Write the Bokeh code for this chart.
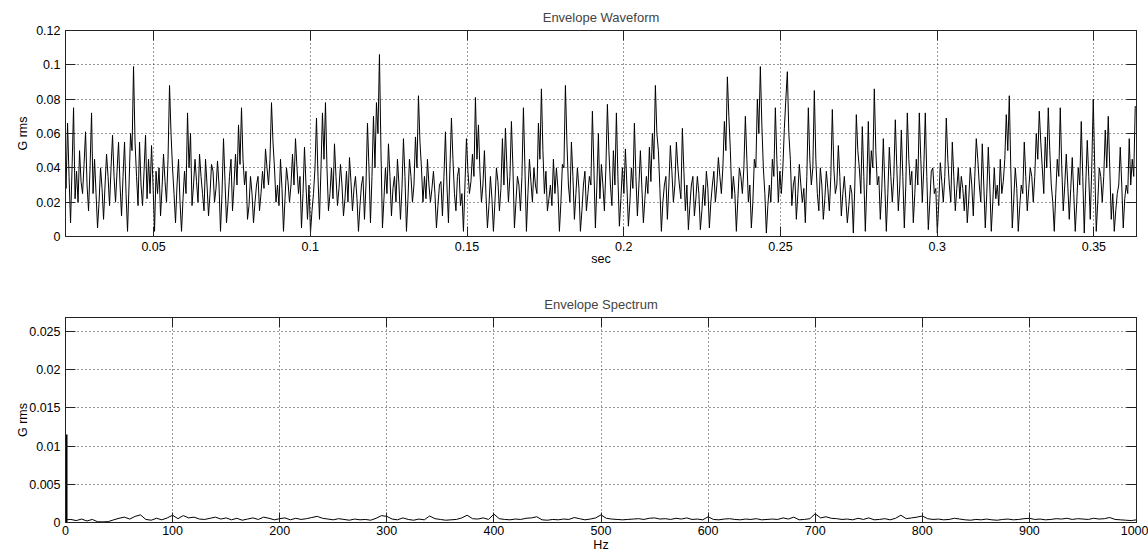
import numpy as np
from bokeh.plotting import figure
from bokeh.models import Range1d, LinearAxis, FixedTicker, CustomJSTickFormatter
from bokeh.layouts import column
from bokeh.embed import file_html
from bokeh.resources import INLINE

# ---------------- data ----------------
# Envelope waveform, evenly sampled between start and end time (values in milli-G rms)
WAVE_T_START = 0.0216
WAVE_T_END = 0.3632
WAVE_MG = [
    # 0.022 - 0.079 s
    55, 28, 66, 35, 8, 40, 75, 22, 38, 20, 50, 32, 25, 42, 61, 30, 15, 40, 72, 25,
    45, 25, 5, 20, 40, 28, 10, 30, 48, 35, 18, 40, 59, 35, 20, 38, 55, 30, 12, 35,
    55, 25, 3, 30, 60, 50, 99, 55, 35, 18, 55, 30, 18, 38, 59, 22, 45, 25, 53, 30,
    3, 38, 25, 40, 12, 28, 48, 32, 20, 45, 88, 60, 40, 25, 8, 30, 45, 20, 3, 22,
    38, 25, 72, 40, 60, 18, 30, 45, 32, 20, 48, 35, 25, 15, 45, 30, 12, 25, 42, 38,
    20, 28, 44, 30, 3, 25, 57, 32, 8, 20, 35, 45, 15, 30, 48, 30, 65, 42, 75, 45,
    # 0.079 - 0.136 s
    30, 38, 10, 18, 35, 25, 8, 20, 30, 35, 15, 25, 38, 28, 51, 40, 30, 45, 78, 55,
    40, 20, 30, 18, 45, 28, 3, 22, 40, 32, 20, 30, 48, 30, 57, 40, 25, 35, 5, 25,
    52, 30, 10, 30, 2, 15, 25, 40, 69, 35, 10, 40, 72, 45, 78, 40, 15, 25, 40, 22,
    54, 35, 18, 28, 42, 30, 12, 22, 38, 20, 46, 32, 15, 28, 35, 22, 3, 18, 30, 35,
    10, 30, 66, 40, 8, 35, 70, 40, 78, 60, 106, 50, 5, 22, 40, 25, 54, 35, 12, 28,
    35, 20, 45, 30, 10, 28, 57, 35, 3, 22, 45, 35, 20, 30, 58, 40, 82, 55, 40, 20,
    # 0.136 - 0.194 s
    35, 22, 45, 30, 20, 28, 38, 25, 5, 18, 30, 32, 12, 35, 61, 30, 8, 40, 69, 45,
    25, 15, 35, 40, 18, 25, 3, 30, 57, 38, 25, 32, 48, 35, 81, 45, 65, 38, 20, 30,
    50, 25, 5, 18, 35, 22, 3, 20, 40, 32, 15, 28, 57, 30, 63, 40, 20, 35, 67, 40,
    5, 20, 35, 30, 15, 35, 75, 40, 3, 25, 45, 32, 20, 40, 30, 25, 66, 45, 86, 50,
    25, 38, 15, 22, 30, 18, 45, 25, 40, 28, 3, 20, 42, 40, 88, 55, 30, 20, 55, 35,
    10, 25, 40, 28, 3, 15, 30, 38, 15, 25, 35, 30, 73, 40, 5, 30, 60, 22, 42, 30,
    # 0.194 - 0.251 s
    15, 40, 77, 50, 30, 18, 50, 30, 72, 35, 6, 22, 40, 25, 51, 30, 6, 20, 40, 28,
    66, 35, 12, 30, 50, 28, 8, 22, 35, 25, 52, 32, 60, 45, 88, 60, 50, 28, 3, 20,
    30, 35, 10, 30, 53, 38, 20, 30, 55, 40, 30, 22, 63, 38, 15, 30, 4, 18, 30, 35,
    12, 22, 35, 25, 4, 15, 30, 18, 38, 28, 5, 20, 30, 38, 20, 30, 46, 35, 25, 40,
    67, 50, 93, 70, 50, 22, 35, 25, 3, 22, 40, 35, 25, 40, 70, 45, 20, 30, 5, 20,
    45, 40, 80, 60, 99, 65, 40, 25, 2, 18, 30, 20, 45, 35, 75, 45, 20, 38, 25, 40,
    # 0.251 - 0.308 s
    63, 80, 96, 60, 45, 18, 30, 35, 10, 25, 42, 30, 20, 28, 8, 35, 75, 45, 30, 40,
    85, 45, 25, 15, 40, 30, 10, 22, 38, 28, 15, 35, 74, 40, 25, 30, 53, 35, 12, 25,
    35, 22, 8, 18, 30, 25, 2, 30, 71, 50, 40, 25, 64, 35, 3, 30, 67, 30, 50, 40,
    86, 50, 30, 35, 10, 28, 57, 30, 3, 25, 52, 35, 20, 35, 68, 40, 15, 30, 62, 35,
    5, 30, 72, 45, 30, 38, 8, 25, 45, 30, 72, 45, 20, 40, 72, 35, 4, 20, 38, 40,
    25, 28, 2, 20, 43, 32, 20, 35, 69, 45, 30, 20, 55, 35, 15, 28, 40, 22, 35, 28,
    # 0.308 - 0.363 s
    15, 30, 8, 22, 40, 30, 12, 35, 57, 45, 30, 20, 54, 30, 5, 25, 52, 30, 3, 20,
    40, 22, 30, 18, 45, 25, 32, 45, 71, 50, 82, 40, 5, 22, 40, 28, 3, 18, 30, 25,
    55, 35, 15, 28, 40, 35, 20, 35, 60, 45, 73, 55, 40, 25, 58, 40, 75, 50, 30, 20,
    3, 25, 45, 35, 75, 40, 15, 30, 48, 30, 10, 28, 46, 25, 3, 20, 40, 30, 67, 35,
    2, 30, 56, 35, 10, 40, 80, 40, 3, 20, 40, 35, 20, 35, 62, 40, 70, 40, 10, 25,
    3, 15, 25, 30, 52, 30, 5, 22, 30, 25, 57, 30, 45, 35, 76,
]

# Envelope spectrum: DC component and 5 Hz bins from 0 to 1000 Hz (values in 1e-5 G rms)
SPEC_DC_E5 = 1150
SPEC_F_STEP = 5
SPEC_E5 = [
    35, 40, 25, 45, 20, 40, 10, 8, 12, 35,
    55, 70, 45, 80, 100, 40, 30, 55, 35, 60,
    95, 50, 90, 60, 70, 45, 40, 55, 70, 45,
    60, 35, 55, 30, 45, 60, 40, 70, 55, 35,
    50, 60, 35, 55, 40, 50, 65, 80, 55, 45,
    35, 50, 40, 30, 45, 35, 40, 30, 55, 90,
    80, 45, 35, 60, 40, 30, 45, 35, 85, 50,
    40, 30, 35, 40, 60, 95, 50, 45, 60, 40,
    110, 50, 40, 35, 45, 40, 55, 60, 75, 35,
    30, 40, 35, 45, 40, 65, 50, 35, 45, 60,
    100, 55, 45, 40, 35, 40, 45, 50, 40, 55,
    60, 45, 50, 40, 55, 45, 60, 40, 45, 35,
    75, 40, 35, 45, 50, 40, 35, 45, 40, 50,
    35, 40, 45, 40, 60, 45, 70, 35, 40, 50,
    115, 60, 75, 55, 50, 40, 45, 35, 55, 40,
    60, 35, 40, 50, 35, 55, 95, 50, 60, 70,
    85, 50, 40, 45, 35, 40, 55, 45, 35, 30,
    40, 35, 45, 35, 30, 40, 45, 35, 40, 50,
    55, 40, 45, 35, 40, 50, 45, 55, 40, 50,
    45, 40, 55, 45, 50, 65, 40, 35, 30, 25,
    35,
]

WAVE_X_TICKS = [0.05, 0.1, 0.15, 0.2, 0.25, 0.3, 0.35]
WAVE_X_LABELS = ["0.05", "0.1", "0.15", "0.2", "0.25", "0.3", "0.35"]
WAVE_Y_TICKS = [0, 0.02, 0.04, 0.06, 0.08, 0.1, 0.12]
WAVE_Y_LABELS = ["0", "0.02", "0.04", "0.06", "0.08", "0.1", "0.12"]
SPEC_X_TICKS = [0, 100, 200, 300, 400, 500, 600, 700, 800, 900, 1000]
SPEC_X_LABELS = ["0", "100", "200", "300", "400", "500", "600", "700", "800", "900", "1000"]
SPEC_Y_TICKS = [0, 0.005, 0.01, 0.015, 0.02, 0.025]
SPEC_Y_LABELS = ["0", "0.005", "0.01", "0.015", "0.02", "0.025"]

# ---------------- derived series ----------------
wave_y = np.array(WAVE_MG) / 1000.0
wave_t = np.linspace(WAVE_T_START, WAVE_T_END, len(wave_y))
spec_y = np.array(SPEC_E5) / 100000.0
spec_f = np.arange(len(spec_y)) * SPEC_F_STEP
spec_dc = SPEC_DC_E5 / 100000.0

FONT = "Liberation Sans"
FS = "12.5px"
AXC = "#222222"


def style_axis(ax, ticks, labels):
    ax.ticker = FixedTicker(ticks=ticks)
    if labels is not None:
        ax.major_label_overrides = dict(zip(ticks, labels))
    ax.major_tick_in = 10
    ax.major_tick_out = 0
    ax.minor_tick_line_color = None
    ax.axis_line_color = AXC
    ax.major_tick_line_color = AXC
    ax.major_label_text_font = FONT
    ax.major_label_text_font_size = FS
    ax.major_label_text_color = "#000000"
    ax.axis_label_text_font = FONT
    ax.axis_label_text_font_size = FS
    ax.axis_label_text_font_style = "normal"
    ax.axis_label_text_color = "#000000"


def blank_axis(ticks):
    ax = LinearAxis(formatter=CustomJSTickFormatter(code="return ''"))
    style_axis(ax, ticks, None)
    ax.major_label_standoff = 0
    ax.major_label_text_font_size = "0px"
    return ax


def make_fig(title, xlabel, ylabel, xr, yr, xt, xl, yt, yl, height, top, bottom,
             lab_standoff, xlab_standoff, tick_standoff):
    p = figure(width=1148, height=height, x_range=xr, y_range=yr,
               output_backend="svg", toolbar_location=None,
               min_border_left=65, min_border_right=12,
               min_border_top=top, min_border_bottom=bottom)
    p.title.text = title
    p.title.align = "center"
    p.title.text_font = FONT
    p.title.text_font_size = "13px"
    p.title.text_font_style = "normal"
    p.title.standoff = 12
    p.background_fill_color = "white"
    p.border_fill_color = "white"
    p.outline_line_color = AXC

    style_axis(p.xaxis[0], xt, xl)
    style_axis(p.yaxis[0], yt, yl)
    p.xaxis[0].axis_label = xlabel
    p.yaxis[0].axis_label = ylabel
    p.yaxis[0].axis_label_standoff = lab_standoff
    p.xaxis[0].axis_label_standoff = xlab_standoff
    p.xaxis[0].major_label_standoff = tick_standoff
    p.yaxis[0].major_label_standoff = 5

    p.add_layout(blank_axis(xt), "above")
    p.add_layout(blank_axis(yt), "right")

    for g, t in ((p.xgrid[0], xt), (p.ygrid[0], yt)):
        g.ticker = FixedTicker(ticks=t)
        g.grid_line_color = "#333333"
        g.grid_line_alpha = 1.0
        g.grid_line_dash = "1 3"
        g.grid_line_width = 1
    return p


p1 = make_fig("Envelope Waveform", "sec", "G rms",
              Range1d(0.0219, 0.3636), Range1d(0, 0.12),
              WAVE_X_TICKS, WAVE_X_LABELS, WAVE_Y_TICKS, WAVE_Y_LABELS,
              height=270, top=30, bottom=34, lab_standoff=3, xlab_standoff=-2,
              tick_standoff=5)
p1.line(wave_t, wave_y, line_color="black", line_width=1)

p2 = make_fig("Envelope Spectrum", "Hz", "G rms",
              Range1d(0, 1000), Range1d(0, 0.0268),
              SPEC_X_TICKS, SPEC_X_LABELS, SPEC_Y_TICKS, SPEC_Y_LABELS,
              height=284, top=47, bottom=31, lab_standoff=-4, xlab_standoff=0,
              tick_standoff=3)
p2.segment(x0=[0], y0=[0], x1=[0], y1=[spec_dc], line_color="black", line_width=4)
p2.line(spec_f, spec_y, line_color="black", line_width=1)

layout = column(p1, p2)
open("out.html", "w").write(file_html(layout, INLINE))
